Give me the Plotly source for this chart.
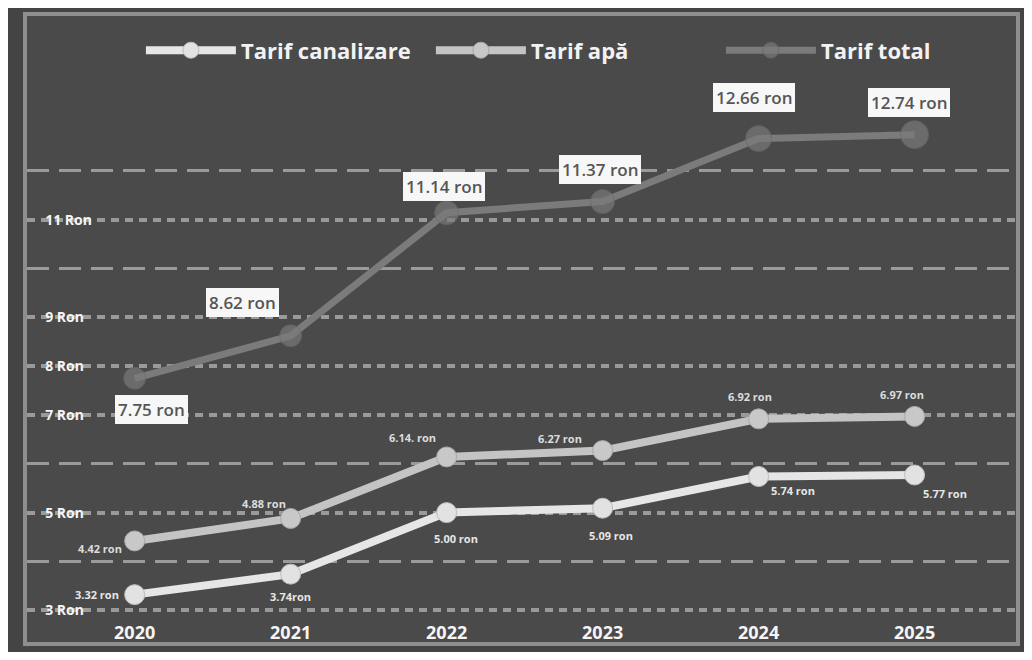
import plotly.graph_objects as go

# ---- data ----
years = [2020, 2021, 2022, 2023, 2024, 2025]
tarif_canalizare = [3.32, 3.74, 5.00, 5.09, 5.74, 5.77]
tarif_apa = [4.42, 4.88, 6.14, 6.27, 6.92, 6.97]
tarif_total = [7.75, 8.62, 11.14, 11.37, 12.66, 12.74]

labels_canalizare = ["3.32 ron", "3.74ron", "5.00 ron", "5.09 ron", "5.74 ron", "5.77 ron"]
labels_apa = ["4.42 ron", "4.88 ron", "6.14. ron", "6.27 ron", "6.92 ron", "6.97 ron"]
labels_total = ["7.75 ron", "8.62 ron", "11.14 ron", "11.37 ron", "12.66 ron", "12.74 ron"]

y_tick_values = [3, 5, 7, 8, 9, 11]
y_tick_text = ["3 Ron", "5 Ron", "7 Ron", "8 Ron", "9 Ron", "11 Ron"]
y_minor_values = [4, 6, 10, 12]

series_names = ["Tarif canalizare", "Tarif apă", "Tarif total"]

# ---- styles ----
FONT = "Open Sans"
BG = "#4a4a4a"
GRID = "#9a9a9a"
col_can = "#e6e6e6"
col_apa = "#c4c4c4"
col_tot = "#7b7b7b"

# label offsets (px) relative to each point
off_total = [(17, -31), (-48, 33), (-3, 26), (-3, 32), (-5, 41), (-6, 32)]
off_apa = [(-35, -8), (-27, 15), (-34, 19), (-43, 12), (-9, 22), (-13, 22)]
off_can = [(-38, 0), (0, -22), (9, -26), (8, -27), (34, -14), (30, -18)]

fig = go.Figure()
fig.add_trace(go.Scatter(
    x=years, y=tarif_canalizare, name=series_names[0], mode="lines+markers",
    line=dict(color=col_can, width=8),
    marker=dict(size=20, color="#e2e2e2", line=dict(color="#bcbcbc", width=1)),
))
fig.add_trace(go.Scatter(
    x=years, y=tarif_apa, name=series_names[1], mode="lines+markers",
    line=dict(color=col_apa, width=8),
    marker=dict(size=20, color="#c8c8c8", line=dict(color="#a8a8a8", width=1)),
))
fig.add_trace(go.Scatter(
    x=years, y=tarif_total, name=series_names[2], mode="lines+markers",
    line=dict(color=col_tot, width=7),
    marker=dict(size=[22, 22, 24, 24, 26, 28], color="#7a7a7a",
                line=dict(color="#6a6a6a", width=1)),
))

annotations = []
for x, y, t, (dx, dy) in zip(years, tarif_total, labels_total, off_total):
    annotations.append(dict(
        x=x, y=y, text=t, showarrow=False, xshift=dx, yshift=dy,
        font=dict(family=FONT, size=17, color="#555555", weight=600),
        bgcolor="#f7f7f7", bordercolor="#f7f7f7", borderpad=2,
    ))
for x, y, t, (dx, dy) in zip(years, tarif_apa, labels_apa, off_apa):
    annotations.append(dict(
        x=x, y=y, text=t, showarrow=False, xshift=dx, yshift=dy,
        font=dict(family=FONT, size=11, color="#dcdcdc", weight="bold"),
    ))
for x, y, t, (dx, dy) in zip(years, tarif_canalizare, labels_canalizare, off_can):
    annotations.append(dict(
        x=x, y=y, text=t, showarrow=False, xshift=dx, yshift=dy,
        font=dict(family=FONT, size=11, color="#e6e6e6", weight="bold"),
    ))

fig.update_layout(
    width=1016, height=644,
    margin=dict(l=19, r=4, t=6, b=10),
    paper_bgcolor="#444444",
    plot_bgcolor=BG,
    showlegend=True,
    legend=dict(
        orientation="h", x=0.555, xanchor="center", y=0.945, yanchor="middle",
        bgcolor="rgba(0,0,0,0)",
        font=dict(family=FONT, size=22, color="#f2f2f2", weight="bold"),
        itemwidth=90, entrywidth=185, traceorder="normal",
    ),
    annotations=annotations,
    xaxis=dict(
        range=[2019.31, 2025.65], tickmode="array", tickvals=years,
        ticktext=[str(y) for y in years], ticklabelposition="inside",
        tickfont=dict(family=FONT, size=18, color="#f5f5f5", weight="bold"),
        showgrid=False, zeroline=False, ticks="",
        showline=True, mirror=True, linecolor="#8e8e8e", linewidth=4,
    ),
    yaxis=dict(
        range=[2.35, 15.17], tickmode="array", tickvals=y_tick_values, ticktext=y_tick_text,
        ticklabelposition="inside", ticklabelstandoff=18,
        tickfont=dict(family=FONT, size=14, color="#f5f5f5", weight="bold"),
        showgrid=True, gridcolor=GRID, gridwidth=4, griddash="8px,6px",
        zeroline=False, ticks="",
        showline=True, mirror=True, linecolor="#8e8e8e", linewidth=4,
        minor=dict(tickmode="array", tickvals=y_minor_values, showgrid=True,
                   gridcolor=GRID, gridwidth=3, griddash="22px,10px"),
    ),
)

fig.write_html("out.html")
